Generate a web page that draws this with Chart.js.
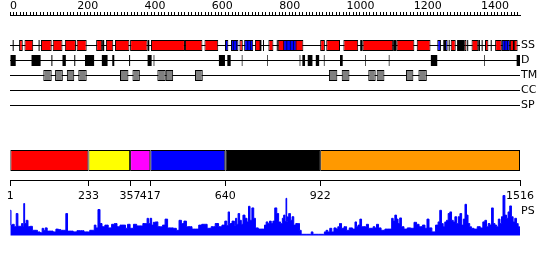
<!DOCTYPE html>
<html>
<head>
<meta charset="utf-8">
<script src="https://cdn.jsdelivr.net/npm/chart.js@4/dist/chart.umd.min.js"></script>
<style>
  html, body { margin: 0; padding: 0; background: #fff; }
  #chart { display: block; }
</style>
</head>
<body>
<canvas id="chart" width="550" height="260"></canvas>
<script>
// sequence length and ruler ticks
const seqLength = 1516;
const rulerTicks = [1, 233, 357, 417, 640, 922, 1516];

// track rows (label text + row position in px units of the hidden y scale)
const trackLabels = ["SS", "D", "TM", "CC", "SP", "PS"];
const trackRows = [45.5, 60.5, 75.5, 90.5, 105.5, 211];

// secondary structure: helix (red), strand (blue), other (black)
const ssHelix = [[27, 38], [43, 69], [92, 124], [127, 156], [163, 196], [198, 228], [256, 274], [285, 307],
  [312, 355], [357, 409], [419, 520], [520, 572], [578, 619], [682, 692], [728, 748], [768, 783], [796, 872],
  [922, 936], [940, 981], [991, 1035], [1048, 1139], [1149, 1202], [1209, 1250], [1310, 1325], [1350, 1357],
  [1372, 1392], [1412, 1422], [1442, 1462], [1486, 1509]];
const ssStrand = [[639, 649], [657, 679], [696, 723], [812, 852], [1270, 1281], [1293, 1301], [1462, 1486]];
const ssOther = [[8, 11], [85, 88], [274, 280], [409, 414], [664, 666], [672, 674], [706, 708], [714, 716],
  [742, 746], [752, 755], [793, 796], [822, 824], [832, 834], [842, 844], [1041, 1048], [1139, 1149],
  [1288, 1293], [1304, 1307], [1329, 1350], [1359, 1362], [1392, 1397], [1402, 1405], [1429, 1432],
  [1470, 1472], [1478, 1480], [1495, 1500]];

// disorder
const disorder = [[0, 17], [64, 91], [123, 126], [156, 166], [191, 194], [223, 250], [273, 290], [304, 310],
  [354, 357], [409, 421], [427, 429], [621, 639], [646, 656], [689, 691], [764, 766], [861, 863], [869, 877],
  [885, 899], [909, 919], [933, 935], [981, 989], [1056, 1058], [1126, 1128], [1251, 1270], [1409, 1411],
  [1506, 1516]];

// transmembrane segments
const transmem = [[99, 124], [134, 157], [169, 191], [203, 228], [327, 352], [364, 386], [438, 463], [463, 485],
  [550, 573], [948, 973], [986, 1009], [1065, 1087], [1090, 1113], [1177, 1199], [1214, 1239]];

// domain blocks
const domainColors = ["#ff0000", "#ffff00", "#ff00ff", "#0000ff", "#000000", "#ff9900"];

// PS profile (residue, score)
const psPos = [1, 5, 10, 15, 22, 25, 32, 37, 40, 42, 45, 51, 56, 64, 69, 79, 84, 94, 97, 102, 107, 114, 124, 132,
  141, 147, 154, 163, 169, 173, 183, 193, 205, 215, 225, 233, 241, 248, 253, 258, 265, 270, 277, 287, 297, 307,
  314, 322, 332, 340, 347, 352, 362, 372, 381, 391, 399, 406, 409, 414, 419, 423, 429, 436, 443, 451, 456, 466,
  471, 481, 490, 499, 506, 513, 521, 528, 536, 546, 556, 566, 574, 581, 591, 605, 615, 625, 635, 642, 647, 650,
  655, 665, 669, 672, 676, 680, 685, 690, 695, 702, 707, 711, 716, 722, 727, 732, 744, 754, 759, 764, 769, 774,
  779, 784, 790, 796, 801, 807, 812, 815, 820, 821, 824, 826, 831, 836, 841, 846, 853, 858, 863, 868, 893, 898,
  903, 932, 937, 942, 947, 954, 959, 967, 972, 977, 982, 989, 997, 1004, 1013, 1023, 1028, 1032, 1037, 1043,
  1047, 1057, 1062, 1069, 1077, 1082, 1087, 1092, 1099, 1107, 1122, 1132, 1137, 1141, 1147, 1151, 1156, 1161,
  1166, 1176, 1186, 1196, 1206, 1211, 1221, 1231, 1236, 1243, 1248, 1260, 1270, 1275, 1280, 1285, 1290, 1295,
  1300, 1305, 1310, 1315, 1320, 1325, 1330, 1335, 1340, 1345, 1350, 1355, 1359, 1364, 1369, 1374, 1384, 1394,
  1402, 1409, 1414, 1419, 1424, 1429, 1434, 1439, 1444, 1449, 1454, 1459, 1463, 1468, 1474, 1478, 1483, 1488,
  1493, 1498, 1503, 1508, 1513, 1516];
const psVal = [0.63, 0.26, 0.28, 0.22, 0.55, 0.23, 0.23, 0.30, 0.23, 0.80, 0.30, 0.38, 0.22, 0.23, 0.13, 0.13,
  0.09, 0.07, 0.18, 0.13, 0.19, 0.11, 0.11, 0.09, 0.16, 0.15, 0.13, 0.13, 0.55, 0.11, 0.11, 0.09, 0.12, 0.12,
  0.09, 0.09, 0.13, 0.13, 0.26, 0.19, 0.65, 0.30, 0.22, 0.26, 0.19, 0.28, 0.30, 0.22, 0.26, 0.26, 0.18, 0.28,
  0.18, 0.28, 0.24, 0.24, 0.30, 0.30, 0.43, 0.30, 0.43, 0.26, 0.33, 0.34, 0.22, 0.22, 0.26, 0.41, 0.19, 0.19,
  0.18, 0.13, 0.38, 0.30, 0.36, 0.22, 0.22, 0.16, 0.16, 0.26, 0.28, 0.28, 0.18, 0.22, 0.30, 0.22, 0.26, 0.36,
  0.25, 0.59, 0.30, 0.36, 0.25, 0.43, 0.28, 0.55, 0.38, 0.28, 0.51, 0.43, 0.34, 0.73, 0.38, 0.69, 0.43, 0.19,
  0.16, 0.16, 0.26, 0.34, 0.30, 0.36, 0.30, 0.36, 0.69, 0.55, 0.34, 0.30, 0.43, 0.51, 0.35, 0.93, 0.35, 0.47,
  0.55, 0.38, 0.47, 0.26, 0.30, 0.30, 0.13, 0.03, 0.03, 0.09, 0.03, 0.03, 0.09, 0.13, 0.09, 0.18, 0.09, 0.19,
  0.16, 0.22, 0.30, 0.18, 0.22, 0.13, 0.19, 0.16, 0.34, 0.22, 0.26, 0.41, 0.22, 0.22, 0.28, 0.18, 0.18, 0.22,
  0.19, 0.28, 0.19, 0.13, 0.16, 0.16, 0.43, 0.36, 0.51, 0.41, 0.30, 0.44, 0.22, 0.16, 0.19, 0.18, 0.33, 0.28,
  0.22, 0.26, 0.18, 0.41, 0.19, 0.09, 0.26, 0.34, 0.63, 0.30, 0.22, 0.34, 0.38, 0.55, 0.59, 0.38, 0.34, 0.47,
  0.30, 0.47, 0.55, 0.26, 0.41, 0.78, 0.51, 0.30, 0.22, 0.18, 0.16, 0.22, 0.19, 0.34, 0.38, 0.22, 0.30, 0.26,
  0.69, 0.30, 0.26, 0.22, 0.41, 0.30, 0.47, 1.00, 0.51, 0.43, 0.59, 0.74, 0.47, 0.34, 0.43, 0.30, 0.22, 0.18];

Chart.defaults.font.family = "DejaVu Sans";
Chart.defaults.font.size = 11;
Chart.defaults.color = "#000";

const labelFont = { family: "DejaVu Sans", size: 11 };

// helpers to turn [start,end] lists into floating bar points on a row
function rowBars(list, row) {
  return list.map((r) => ({ x: r, y: row }));
}

function barSet(list, row, fill, border, thickness, order) {
  return {
    type: "bar",
    indexAxis: "y",
    xAxisID: "x",
    yAxisID: "y",
    data: rowBars(list, row),
    backgroundColor: fill,
    borderColor: border,
    borderWidth: border ? 1 : 0,
    borderSkipped: false,
    barThickness: thickness,
    grouped: false,
    inflateAmount: 0,
    order: order,
  };
}

function trackLine(row) {
  return {
    type: "line",
    xAxisID: "x",
    yAxisID: "y",
    data: [{ x: 0, y: row }, { x: seqLength, y: row }],
    borderColor: "#000",
    borderWidth: 1,
    pointRadius: 0,
    order: 10,
  };
}

const domainBars = [];
for (let i = 0; i < rulerTicks.length - 1; i++) {
  domainBars.push([rulerTicks[i], rulerTicks[i + 1]]);
}

const datasets = [
  trackLine(trackRows[0]),
  trackLine(trackRows[1]),
  trackLine(trackRows[2]),
  trackLine(trackRows[3]),
  trackLine(trackRows[4]),
  barSet(ssHelix, trackRows[0], "#ff0000", "#000", 11, 3),
  barSet(ssStrand, trackRows[0], "#0000ff", "#000", 11, 2),
  barSet(ssOther, trackRows[0], "#000", null, 11, 1),
  barSet(disorder, trackRows[1], "#000", null, 11, 1),
  barSet(transmem, trackRows[2], "#808080", "#000", 11, 1),
  barSet(domainBars, 160.5, domainColors, "#000", 21, 1),
  {
    type: "line",
    xAxisID: "x",
    yAxisID: "yPS",
    data: psPos.map((p, i) => ({ x: p, y: psVal[i] })),
    borderColor: "#0000ff",
    backgroundColor: "#0000ff",
    borderWidth: 1,
    pointRadius: 0,
    stepped: "middle",
    fill: "origin",
    order: 5,
  },
];

const ctx = document.getElementById("chart").getContext("2d");
const chart = new Chart(ctx, {
  type: "bar",
  data: { datasets: datasets },
  options: {
    responsive: false,
    animation: false,
    devicePixelRatio: 1,
    layout: { padding: { left: 10, right: 0, top: 0, bottom: 0 } },
    plugins: { legend: { display: false }, tooltip: { enabled: false } },
    scales: {
      x: {
        type: "linear",
        position: "top",
        min: 0,
        max: seqLength,
        offset: false,
        grid: { offset: false, drawOnChartArea: false, drawTicks: true, tickLength: 3, color: "#000", lineWidth: 1 },
        border: { display: true, color: "#000", width: 1 },
        ticks: {
          stepSize: 10,
          autoSkip: false,
          includeBounds: false,
          maxTicksLimit: 1000,
          maxRotation: 0,
          minRotation: 0,
          align: "start",
          padding: -1,
          color: "#000",
          font: labelFont,
          callback: (v) => (v % 200 === 0 ? String(v) : ""),
        },
        afterFit: (s) => {
          s.height = 15;
          s.paddingLeft = 0;
          s.paddingRight = 0;
        },
      },
      x2: {
        type: "linear",
        axis: "x",
        position: { y: 180.5 },
        min: 0,
        max: seqLength,
        offset: false,
        afterBuildTicks: (s) => {
          s.ticks = rulerTicks.map((v) => ({ value: v }));
        },
        grid: { offset: false, drawOnChartArea: false, drawTicks: true, tickLength: 5, color: "#000" },
        border: { display: true, color: "#000", width: 1 },
        ticks: {
          autoSkip: false,
          maxRotation: 0,
          minRotation: 0,
          padding: 4,
          color: "#000",
          font: labelFont,
          callback: (v) => String(v),
        },
      },
      y: {
        type: "linear",
        display: false,
        reverse: true,
        min: 15,
        max: 260,
        offset: false,
      },
      yLab: {
        type: "linear",
        axis: "y",
        position: "right",
        reverse: true,
        min: 15,
        max: 260,
        offset: false,
        grid: { display: false, drawTicks: false },
        border: { display: false },
        afterBuildTicks: (s) => {
          s.ticks = trackRows.map((v) => ({ value: v }));
        },
        ticks: {
          autoSkip: false,
          padding: 1,
          color: "#000",
          font: labelFont,
          callback: (v, i) => trackLabels[i],
        },
        afterFit: (s) => {
          s.width = 30;
          s.paddingTop = 0;
          s.paddingBottom = 0;
        },
      },
      yPS: {
        type: "linear",
        display: false,
        min: -0.6125,
        max: 5.5125,
        offset: false,
      },
    },
  },
});
</script>
</body>
</html>
